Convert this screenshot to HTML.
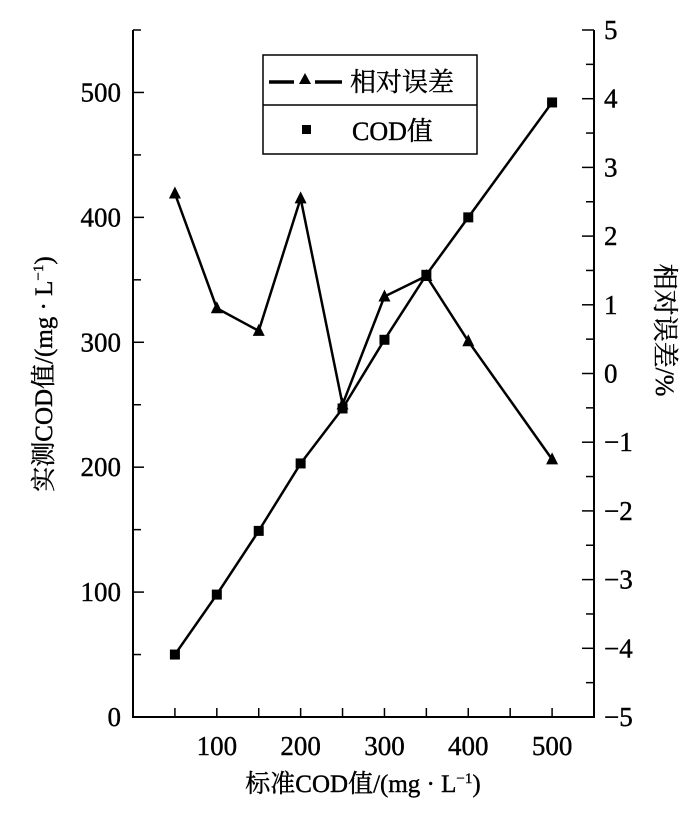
<!DOCTYPE html>
<html><head><meta charset="utf-8"><style>
body{margin:0;background:#fff;}
svg text{font-family:"Liberation Serif","Noto Serif CJK SC","Noto Sans CJK SC",serif;fill:#000;stroke:#000;stroke-width:0.4;}
</style></head><body>
<svg id="chart" width="700" height="813" viewBox="0 0 700 813" xmlns="http://www.w3.org/2000/svg">
<g id="axes"></g>
<g id="series"></g>
<text transform="translate(52,374) rotate(-90)" text-anchor="middle" font-size="25">实测COD值/(mg · L<tspan dy="-9" font-size="15">−1</tspan><tspan dy="9">)</tspan></text>
<text transform="translate(656,330) rotate(90)" text-anchor="middle" font-size="26">相对误差/%</text>
<text x="363" y="792" text-anchor="middle" font-size="25">标准COD值/(mg · L<tspan dy="-9" font-size="15">−1</tspan><tspan dy="9">)</tspan></text>
<g>
<rect x="263" y="55" width="214" height="99" fill="#fff" stroke="#000" stroke-width="1.5"/>
<line x1="263" y1="105" x2="477" y2="105" stroke="#000" stroke-width="1.5"/>
<line x1="269" y1="82" x2="342" y2="82" stroke="#000" stroke-width="3.5"/>
<rect x="294" y="76" width="21" height="12" fill="#fff"/>
<polygon points="305,73 299,84 311,84" fill="#000"/>
<text x="350" y="91" font-size="26">相对误差</text>
<rect x="302" y="125" width="9" height="9" fill="#000"/>
<text x="352" y="140" font-size="26">COD值</text>
</g>
</svg>
<script>
const xCats=[50,100,150,200,250,300,350,400,500];
const codValues=[50,98,149,203,247,302,354,400,492];
const errValues=[2.62,0.95,0.62,2.55,-0.45,1.12,1.42,0.47,-1.25];
const xTickLabels=[100,200,300,400,500];
const leftTickLabels=[0,100,200,300,400,500];
const rightTickLabels=[-5,-4,-3,-2,-1,0,1,2,3,4,5];
const L=133,R=594,T=30,B=717;
const xs=v=>L+(v/550)*(R-L);
const yl=v=>B-(v/550)*(B-T);
const yr=v=>B-((v+5)/10)*(B-T);
const NS="http://www.w3.org/2000/svg";
const ax=document.getElementById('axes'),se=document.getElementById('series');
function mk(t,a,p){const e=document.createElementNS(NS,t);for(const k in a)e.setAttribute(k,a[k]);p.appendChild(e);return e;}
const frame=mk('path',{d:`M${L},${T}L${L},${B}L${R},${B}L${R},${T}`,fill:'none',stroke:'#000','stroke-width':2},ax);


for(let v=50;v<=500;v+=50){const t=mk('line',{x1:xs(v),x2:xs(v),y1:B,y2:B-9,stroke:'#000','stroke-width':1.5},ax);

}
xTickLabels.forEach(v=>{const t=mk('text',{x:xs(v),y:B+38,'text-anchor':'middle','font-size':27},ax);t.textContent=v;

});
for(let v=0;v<=550;v+=50){const t=mk('line',{x1:L,x2:L+(v%100?8:11),y1:yl(v),y2:yl(v),stroke:'#000','stroke-width':1.5},ax);

}
leftTickLabels.forEach(v=>{const t=mk('text',{x:L-12,y:yl(v)+9,'text-anchor':'end','font-size':27},ax);t.textContent=v;

});
for(let v=-5;v<=5;v+=0.5){const t=mk('line',{x1:R,x2:R-(v%1?8:12),y1:yr(v),y2:yr(v),stroke:'#000','stroke-width':1.5},ax);

}
rightTickLabels.forEach(v=>{const t=mk('text',{x:R+10,y:yr(v)+9,'text-anchor':'start','font-size':27},ax);t.textContent=v<0?'−'+(-v):v;

});
const codLine=mk('polyline',{points:xCats.map((c,i)=>xs(c)+','+yl(codValues[i])).join(' '),fill:'none',stroke:'#000','stroke-width':2.5},se);


const errLine=mk('polyline',{points:xCats.map((c,i)=>xs(c)+','+yr(errValues[i])).join(' '),fill:'none',stroke:'#000','stroke-width':2.5},se);


xCats.forEach((c,i)=>{const x=xs(c),y=yl(codValues[i]);
const m=mk('rect',{x:x-5,y:y-5,width:10,height:10,fill:'#000'},se);


const y2=yr(errValues[i]);
const p=mk('polygon',{points:`${x},${y2-7} ${x-6},${y2+5} ${x+6},${y2+5}`,fill:'#000'},se);

});
</script>
</body></html>
